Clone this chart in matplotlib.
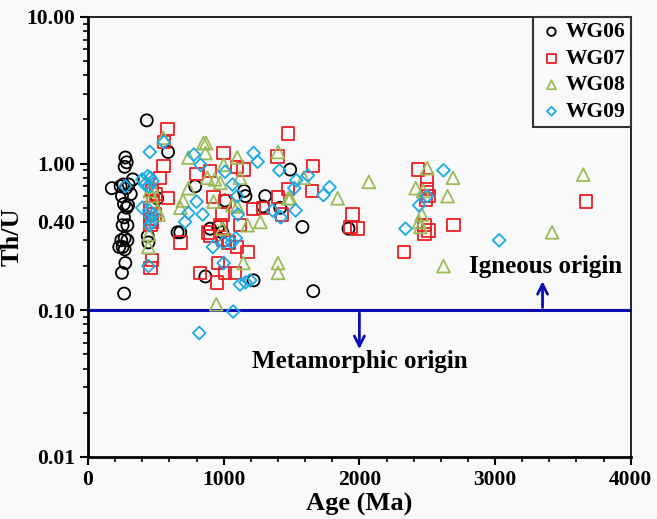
import matplotlib
matplotlib.use("Agg")
import matplotlib.pyplot as plt
from matplotlib.ticker import FixedLocator, LogLocator, NullFormatter, MultipleLocator

# Sample WG06
ages06 = [433, 590, 275, 285, 270, 175, 240, 260, 280, 300, 330, 265, 285, 295,
          265, 255, 290, 270, 245, 290, 230, 270, 255, 275, 250, 266, 510, 440,
          445, 660, 790, 1150, 1160, 1306, 1010, 1290, 680, 900, 960, 990, 865,
          1220, 1490, 1417, 1580, 1920, 1660, 315, 250]
thu06 = [1.97, 1.20, 1.10, 1.02, 0.95, 0.68, 0.70, 0.72, 0.68, 0.72, 0.78, 0.53, 0.50, 0.52,
         0.43, 0.38, 0.38, 0.31, 0.30, 0.30, 0.27, 0.26, 0.27, 0.21, 0.18, 0.13, 0.58, 0.32,
         0.29, 0.34, 0.70, 0.65, 0.60, 0.60, 0.56, 0.51, 0.34, 0.36, 0.37, 0.34, 0.17,
         0.16, 0.91, 0.50, 0.37, 0.36, 0.135, 0.62, 0.60]

# Sample WG07
ages07 = [585, 560, 1476, 1000, 1395, 555, 800, 900, 1100, 1145, 1476, 530, 590, 925,
          1010, 1220, 1290, 1400, 1430, 460, 460, 990, 1120, 885, 900, 975, 1030, 1100,
          1175, 960, 1010, 1085, 827, 950, 470, 460, 1660, 1650, 1950, 1935, 1985, 2430,
          2500, 2500, 2510, 2490, 2480, 2510, 2480, 2695, 2330, 3670, 680, 470, 480, 460,
          490, 470, 500, 1000, 1040]
thu07 = [1.72, 1.40, 1.60, 1.18, 1.12, 0.96, 0.85, 0.89, 0.95, 0.91, 0.67, 0.80, 0.58, 0.59,
         0.55, 0.49, 0.50, 0.59, 0.45, 0.42, 0.38, 0.45, 0.38, 0.34, 0.32, 0.38, 0.29, 0.27,
         0.25, 0.21, 0.18, 0.18, 0.18, 0.155, 0.22, 0.195, 0.96, 0.65, 0.45, 0.37, 0.36, 0.91,
         0.77, 0.67, 0.60, 0.57, 0.38, 0.35, 0.33, 0.38, 0.25, 0.55, 0.29, 0.65, 0.55, 0.50,
         0.45, 0.40, 0.62, 0.30, 0.29]

# Sample WG08
ages08 = [555, 850, 865, 740, 1400, 1000, 1100, 1120, 880, 935, 975, 740, 700, 680,
          925, 1100, 1270, 1175, 1476, 1145, 1400, 1400, 945, 445, 1590, 1490, 1840, 2070,
          2500, 2690, 2415, 2650, 2460, 2440, 2450, 2470, 3650, 3420, 2620, 870, 470, 455,
          470, 510, 520, 450, 1065, 990]
thu08 = [1.50, 1.38, 1.18, 1.10, 1.20, 0.98, 1.10, 0.80, 0.80, 0.78, 0.74, 0.68, 0.56, 0.50,
         0.55, 0.51, 0.40, 0.38, 0.58, 0.21, 0.21, 0.18, 0.11, 0.27, 0.80, 0.58, 0.58, 0.75,
         0.93, 0.80, 0.68, 0.60, 0.45, 0.40, 0.37, 0.65, 0.84, 0.34, 0.20, 1.38, 0.70, 0.65,
         0.60, 0.48, 0.45, 0.33, 0.52, 0.36]

# Sample WG09
ages09 = [455, 560, 275, 400, 440, 460, 475, 450, 420, 400, 450, 460, 470, 455, 480,
          445, 780, 830, 1010, 1220, 1250, 1065, 1100, 800, 740, 845, 715, 1105, 920,
          1000, 1090, 1060, 1000, 1120, 1160, 1070, 1410, 1360, 1420, 1535, 1620, 1520,
          1530, 1735, 1780, 2340, 2440, 2500, 2620, 3030, 820, 1195]
thu09 = [1.20, 1.40, 0.70, 0.78, 0.82, 0.80, 0.76, 0.70, 0.72, 0.50, 0.48, 0.43, 0.40, 0.38, 0.45,
         0.20, 1.15, 0.98, 0.88, 1.18, 1.03, 0.72, 0.60, 0.55, 0.46, 0.45, 0.40, 0.45, 0.27,
         0.29, 0.31, 0.29, 0.21, 0.15, 0.155, 0.098, 0.90, 0.48, 0.43, 0.77, 0.83, 0.68,
         0.48, 0.61, 0.69, 0.36, 0.52, 0.60, 0.90, 0.30, 0.07, 0.16]

series = [
    ("WG06", ages06, thu06, "o", "black", 75),
    ("WG07", ages07, thu07, "s", "#ee1c24", 80),
    ("WG08", ages08, thu08, "^", "#9bbb59", 85),
    ("WG09", ages09, thu09, "D", "#1ba9e6", 42),
]

boundary = 0.1
line_color = "#0c0cb4"

plt.rcParams["font.family"] = ["Liberation Serif", "DejaVu Serif"]
plt.rcParams["font.weight"] = "bold"

fig = plt.figure(figsize=(6.57, 5.19), dpi=100, facecolor="#f9f9f9")
ax = fig.add_axes([0.134, 0.1195, 0.826, 0.848])
ax.set_facecolor("#f9f9f9")

for name, x, y, marker, color, size in series:
    ax.scatter(x, y, s=size, marker=marker, facecolors="none", edgecolors=color,
               linewidths=1.3, label=name, zorder=3)

# igneous / metamorphic boundary
ax.axhline(boundary, color=line_color, lw=2.2, zorder=2)
ax.annotate("", xy=(2000, 0.052), xytext=(2000, 0.1),
            arrowprops=dict(arrowstyle="->", color=line_color, lw=2, mutation_scale=18))
ax.annotate("", xy=(3350, 0.165), xytext=(3350, 0.1),
            arrowprops=dict(arrowstyle="->", color=line_color, lw=2, mutation_scale=18))
ax.text(3370, 0.2, "Igneous origin", ha="center", va="center", fontsize=18,
        fontweight="bold")
ax.text(2000, 0.045, "Metamorphic origin", ha="center", va="center", fontsize=18,
        fontweight="bold")

ax.set_yscale("log")
ax.set_xlim(0, 4000)
ax.set_ylim(0.01, 10)
ax.xaxis.set_major_locator(MultipleLocator(1000))
ax.xaxis.set_minor_locator(MultipleLocator(200))
ax.yaxis.set_major_locator(FixedLocator([0.01, 0.1, 0.4, 1, 10]))
ax.yaxis.set_minor_locator(LogLocator(base=10, subs=range(2, 10)))
ax.yaxis.set_minor_formatter(NullFormatter())
ax.set_yticklabels(["0.01", "0.10", "0.40", "1.00", "10.00"])
ax.tick_params(which="major", length=6, width=1.5, labelsize=15.5)
ax.tick_params(which="minor", length=3.5, width=1.2)
for side in ["left", "bottom"]:
    ax.spines[side].set_linewidth(2)
for side in ["top", "right"]:
    ax.spines[side].set_linewidth(1.2)

ax.set_xlabel("Age (Ma)", fontsize=19, fontweight="bold", labelpad=2)
ax.set_ylabel("Th/U", fontsize=19, fontweight="bold", labelpad=2)

leg = ax.legend(loc="upper right", borderaxespad=0, fancybox=False,
                edgecolor="#333333", framealpha=1, facecolor="#f9f9f9",
                prop={"size": 15.5, "weight": "bold"}, handletextpad=0.05,
                markerscale=0.7, labelspacing=0.3, borderpad=0.25,
                handlelength=1.2)
leg.get_frame().set_linewidth(1.5)

fig.savefig("out.png", dpi=100, facecolor=fig.get_facecolor())
